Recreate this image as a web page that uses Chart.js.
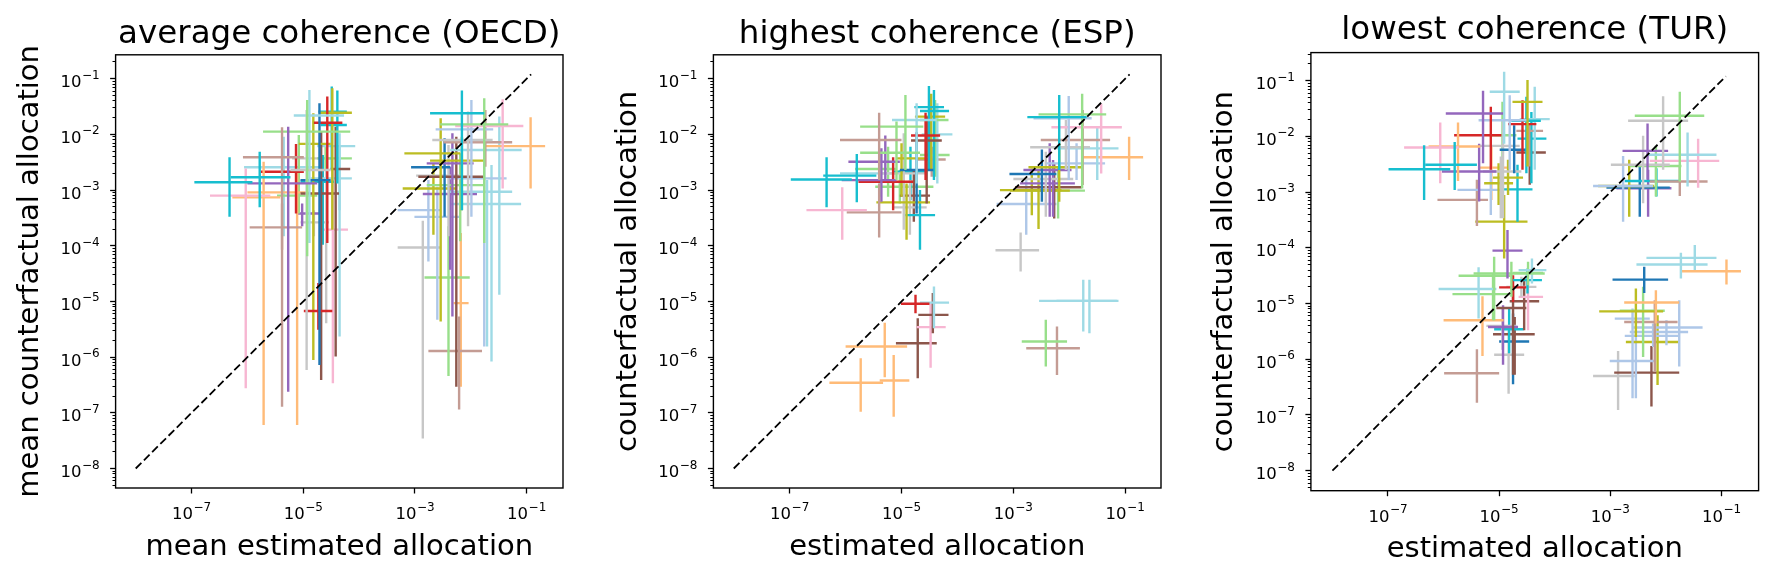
<!DOCTYPE html>
<html>
<head>
<meta charset="utf-8">
<script src="https://cdn.jsdelivr.net/npm/chart.js@4"></script>
<style>
  body { margin: 0; background: #fff; width: 1783px; height: 582px; overflow: hidden; position: relative; }
  canvas { position: absolute; top: 0; }
</style>
</head>
<body>
<canvas id="oecd" width="594" height="582" style="left:0px"></canvas>
<canvas id="esp" width="596" height="582" style="left:594px"></canvas>
<canvas id="tur" width="593" height="582" style="left:1190px"></canvas>
<script>
// tab20 colours
const tab20 = ['#1f77b4', '#aec7e8', '#ff7f0e', '#ffbb78', '#2ca02c', '#98df8a', '#d62728', '#ff9896',
    '#9467bd', '#c5b0d5', '#8c564b', '#c49c94', '#e377c2', '#f7b6d2', '#7f7f7f', '#c7c7c7',
    '#bcbd22', '#dbdb8d', '#17becf', '#9edae5'];

// one row per sector, all in log10 units:
// [estimated, counterfactual, estimated low, estimated high, counterfactual low, counterfactual high, colour]
const oecdBars = [
    [-6.32, -2.86, -6.95, -5.91, -3.48, -2.41, 18],
    [-5.78, -2.77, -6.30, -5.23, -3.31, -2.31, 18],
    [-6.03, -3.10, -6.67, -5.59, -6.56, -2.61, 13],
    [-5.71, -3.13, -6.27, -5.41, -7.22, -2.49, 3],
    [-5.38, -2.41, -6.08, -4.99, -6.89, -1.87, 11],
    [-5.27, -2.88, -6.00, -4.75, -6.62, -1.86, 8],
    [-5.38, -3.67, -5.96, -5.02, -4.07, -3.24, 11],
    [-4.93, -1.95, -5.72, -4.16, -4.19, -1.38, 5],
    [-4.94, -2.64, -5.23, -4.51, -6.23, -1.56, 15],
    [-4.89, -1.66, -5.17, -4.27, -3.95, -1.20, 19],
    [-4.71, -2.82, -5.05, -4.51, -6.14, -1.44, 0],
    [-4.57, -1.79, -4.81, -4.30, -3.95, -1.32, 6],
    [-4.73, -5.17, -4.99, -4.48, -5.51, -4.67, 6],
    [-5.13, -2.67, -5.76, -4.99, -3.42, -2.17, 6],
    [-4.82, -2.17, -5.08, -4.51, -6.05, -1.62, 16],
    [-4.48, -1.61, -4.72, -4.13, -3.71, -1.17, 16],
    [-4.49, -1.59, -4.73, -4.22, -2.64, -1.14, 18],
    [-4.39, -1.83, -4.69, -4.22, -2.88, -1.21, 18],
    [-4.68, -3.06, -5.05, -4.36, -6.41, -1.95, 10],
    [-4.42, -2.62, -4.51, -4.16, -5.99, -1.86, 10],
    [-4.35, -2.21, -4.75, -4.07, -5.63, -1.98, 19],
    [-4.35, -2.79, -4.87, -4.13, -3.36, -2.22, 19],
    [-4.65, -2.85, -5.05, -4.45, -3.98, -2.37, 18],
    [-4.47, -3.71, -4.72, -4.20, -6.47, -2.64, 13],
    [-5.11, -3.04, -6.00, -4.90, -7.22, -2.64, 3],
    [-5.08, -3.10, -5.47, -4.75, -3.42, -2.01, 5],
    [-5.02, -3.42, -5.11, -4.63, -3.65, -3.24, 8],
    [-4.81, -3.58, -5.05, -4.54, -3.83, -3.36, 15],
    [-4.60, -2.43, -4.75, -4.13, -2.64, -2.22, 5],
    [-4.59, -2.43, -5.20, -4.51, -5.39, -2.28, 15],
    [-5.35, -2.59, -6.06, -4.63, -3.83, -2.04, 19],
    [-2.16, -1.62, -2.73, -1.76, -3.36, -1.21, 18],
    [-1.76, -1.82, -2.55, -1.33, -3.95, -1.35, 5],
    [-1.43, -1.85, -2.28, -1.06, -2.97, -1.37, 13],
    [-1.99, -1.91, -2.63, -1.60, -3.48, -1.38, 1],
    [-2.05, -2.10, -2.69, -1.61, -3.65, -1.59, 15],
    [-1.74, -2.14, -2.49, -1.26, -2.58, -1.56, 11],
    [-0.93, -2.21, -1.77, -0.67, -2.97, -1.69, 3],
    [-1.49, -2.28, -2.37, -1.09, -4.88, -1.68, 19],
    [-2.54, -2.34, -3.19, -2.19, -5.36, -1.71, 16],
    [-2.16, -2.47, -2.73, -1.76, -3.36, -2.04, 16],
    [-2.33, -2.52, -2.79, -1.95, -5.27, -1.98, 8],
    [-2.47, -2.59, -3.07, -2.37, -3.48, -2.07, 0],
    [-2.26, -2.76, -2.94, -1.77, -6.53, -2.04, 10],
    [-1.76, -2.79, -2.37, -1.36, -5.81, -2.52, 1],
    [-2.40, -2.74, -2.98, -2.19, -3.83, -2.19, 15],
    [-2.19, -2.91, -2.79, -1.76, -3.92, -2.34, 5],
    [-2.67, -2.97, -3.22, -2.25, -3.80, -2.52, 16],
    [-1.63, -3.03, -2.37, -1.26, -6.08, -2.55, 19],
    [-2.37, -3.07, -2.86, -1.89, -4.43, -2.58, 8],
    [-1.71, -3.25, -2.37, -1.10, -5.81, -2.82, 19],
    [-2.76, -3.36, -3.31, -2.55, -4.28, -2.82, 1],
    [-2.60, -3.48, -3.01, -2.19, -5.33, -2.94, 1],
    [-2.86, -4.03, -3.31, -2.55, -7.46, -3.55, 15],
    [-2.40, -4.57, -2.83, -2.02, -6.34, -3.65, 5],
    [-2.21, -5.89, -2.76, -1.80, -6.94, -5.27, 11],
    [-2.18, -5.03, -2.31, -2.04, -6.53, -3.77, 3]
];

const espBars = [
    [-6.34, -2.81, -6.98, -5.89, -3.31, -2.41, 18],
    [-5.80, -2.74, -6.40, -5.45, -3.22, -2.35, 18],
    [-6.06, -3.36, -6.70, -5.62, -3.89, -2.95, 13],
    [-5.40, -3.40, -5.98, -5.00, -3.85, -2.88, 11],
    [-5.40, -2.10, -6.10, -5.00, -2.82, -1.61, 11],
    [-4.93, -1.86, -5.74, -4.61, -2.64, -1.29, 5],
    [-5.09, -2.33, -5.74, -4.67, -2.82, -1.77, 5],
    [-5.29, -2.49, -5.95, -5.03, -2.82, -2.02, 8],
    [-5.36, -2.82, -6.07, -5.09, -3.21, -2.25, 8],
    [-4.73, -1.74, -5.17, -4.37, -2.88, -1.44, 19],
    [-4.57, -2.02, -4.83, -4.31, -2.82, -1.61, 6],
    [-4.55, -2.11, -4.83, -4.28, -3.24, -1.68, 10],
    [-4.73, -2.64, -5.03, -4.43, -3.42, -1.96, 0],
    [-5.15, -2.85, -5.77, -4.79, -3.36, -2.41, 6],
    [-4.91, -3.22, -5.45, -4.49, -3.89, -2.88, 16],
    [-5.00, -2.43, -5.09, -4.55, -3.12, -2.16, 16],
    [-4.67, -3.45, -4.93, -4.40, -4.07, -3.00, 18],
    [-4.85, -3.31, -5.15, -4.55, -3.80, -2.82, 15],
    [-4.96, -2.70, -5.39, -4.55, -3.71, -1.98, 15],
    [-4.51, -1.51, -4.77, -4.24, -2.64, -1.13, 18],
    [-4.42, -1.58, -4.67, -4.15, -2.82, -1.20, 18],
    [-4.47, -1.68, -4.76, -4.22, -2.64, -1.27, 16],
    [-4.40, -1.74, -4.67, -4.16, -2.76, -1.38, 5],
    [-4.36, -2.00, -4.64, -4.09, -2.88, -1.44, 19],
    [-4.40, -2.37, -4.67, -4.14, -2.70, -2.04, 5],
    [-4.46, -2.45, -4.73, -4.21, -2.76, -2.22, 11],
    [-4.78, -3.10, -5.03, -4.49, -3.57, -2.64, 10],
    [-4.84, -2.67, -5.15, -4.58, -3.18, -2.22, 18],
    [-5.03, -2.94, -5.47, -4.43, -3.24, -2.64, 5],
    [-5.39, -2.70, -6.10, -5.09, -3.12, -2.28, 19],
    [-5.24, -2.62, -5.83, -5.09, -3.12, -2.22, 5],
    [-4.75, -5.04, -5.01, -4.50, -5.21, -4.88, 6],
    [-4.42, -5.02, -4.67, -4.15, -5.48, -4.73, 19],
    [-4.44, -5.24, -4.70, -4.16, -5.57, -4.85, 10],
    [-4.48, -5.46, -4.73, -4.21, -6.19, -5.03, 13],
    [-4.71, -5.75, -5.10, -4.37, -6.38, -5.30, 10],
    [-5.30, -5.81, -6.00, -4.90, -6.36, -5.38, 3],
    [-5.73, -6.46, -6.29, -5.33, -6.98, -6.02, 3],
    [-5.14, -6.42, -5.39, -4.86, -7.07, -5.96, 3],
    [-2.18, -1.69, -2.75, -1.69, -2.64, -1.29, 18],
    [-1.77, -1.64, -2.55, -1.34, -2.97, -1.27, 5],
    [-2.01, -1.71, -2.64, -1.60, -2.82, -1.31, 1],
    [-1.43, -1.87, -2.32, -1.06, -2.70, -1.45, 13],
    [-1.76, -2.10, -2.51, -1.27, -2.91, -1.56, 11],
    [-2.06, -2.23, -2.70, -1.63, -2.64, -1.74, 15],
    [-1.50, -2.25, -2.23, -1.12, -2.82, -1.87, 19],
    [-0.93, -2.41, -1.75, -0.68, -2.82, -2.04, 3],
    [-1.87, -2.52, -2.41, -1.36, -2.82, -2.16, 1],
    [-2.18, -2.59, -2.73, -1.76, -3.21, -2.16, 16],
    [-2.49, -2.71, -3.07, -2.23, -3.21, -2.27, 0],
    [-2.35, -2.64, -2.82, -1.96, -3.48, -2.16, 8],
    [-2.42, -2.80, -3.00, -1.93, -3.48, -2.31, 15],
    [-2.29, -2.88, -2.88, -1.90, -3.48, -2.46, 8],
    [-2.27, -2.95, -2.97, -1.78, -3.51, -2.52, 10],
    [-2.67, -3.00, -3.24, -2.14, -3.45, -2.61, 16],
    [-2.55, -3.01, -3.06, -1.99, -3.70, -2.64, 16],
    [-2.20, -3.01, -2.76, -1.72, -3.51, -2.58, 5],
    [-2.77, -3.25, -3.30, -2.23, -3.80, -2.82, 1],
    [-2.87, -4.08, -3.32, -2.54, -4.46, -3.76, 15],
    [-1.75, -4.99, -2.54, -1.12, -5.54, -4.61, 19],
    [-1.64, -4.99, -2.23, -1.15, -5.57, -4.61, 19],
    [-2.42, -5.72, -2.85, -2.04, -6.17, -5.33, 5],
    [-2.22, -5.84, -2.77, -1.81, -6.32, -5.45, 11]
];

const turBars = [
    [-6.35, -2.59, -6.99, -5.88, -3.14, -2.16, 18],
    [-5.80, -2.51, -6.33, -5.40, -2.96, -2.10, 18],
    [-6.06, -2.20, -6.71, -5.73, -2.84, -1.75, 13],
    [-5.74, -2.18, -6.27, -5.34, -2.80, -1.75, 3],
    [-5.29, -1.59, -5.96, -4.93, -2.48, -1.18, 8],
    [-5.15, -1.98, -5.81, -4.96, -2.60, -1.47, 6],
    [-5.36, -2.63, -6.03, -5.05, -3.17, -2.13, 8],
    [-4.81, -1.71, -5.37, -4.51, -2.60, -1.26, 1],
    [-4.91, -1.20, -5.17, -4.63, -2.13, -0.84, 19],
    [-4.49, -1.38, -4.76, -4.22, -2.54, -0.99, 16],
    [-4.58, -1.78, -4.84, -4.33, -2.60, -1.35, 6],
    [-4.51, -1.72, -4.78, -4.25, -2.66, -1.29, 18],
    [-4.36, -1.69, -4.63, -4.09, -2.60, -1.11, 19],
    [-4.46, -1.90, -4.69, -4.21, -2.54, -1.77, 11],
    [-4.42, -2.04, -4.67, -4.15, -2.84, -1.56, 18],
    [-4.45, -2.29, -4.69, -4.16, -2.87, -1.89, 10],
    [-4.73, -2.24, -4.99, -4.45, -2.66, -1.80, 0],
    [-4.93, -2.17, -5.34, -4.63, -3.47, -1.71, 15],
    [-4.97, -2.63, -5.29, -4.60, -3.47, -2.36, 15],
    [-4.94, -1.98, -5.17, -4.69, -2.60, -1.38, 5],
    [-4.84, -2.74, -5.11, -4.57, -3.05, -2.42, 16],
    [-5.01, -2.84, -5.27, -4.75, -3.23, -2.48, 16],
    [-4.67, -2.95, -4.93, -4.40, -3.53, -2.51, 18],
    [-5.15, -2.96, -5.75, -4.93, -3.41, -2.54, 1],
    [-5.40, -3.14, -6.11, -5.20, -3.61, -2.78, 11],
    [-4.91, -3.53, -5.43, -4.49, -4.19, -3.05, 16],
    [-4.85, -4.05, -5.12, -4.58, -4.55, -3.68, 8],
    [-5.14, -2.56, -5.37, -4.86, -3.14, -2.18, 3],
    [-5.09, -4.50, -5.73, -4.80, -5.30, -4.16, 5],
    [-4.78, -4.46, -5.46, -4.18, -4.88, -4.25, 5],
    [-5.37, -4.74, -6.09, -5.05, -5.27, -4.35, 19],
    [-5.11, -4.83, -5.84, -4.80, -5.30, -4.46, 5],
    [-5.30, -5.30, -6.00, -4.92, -5.94, -4.87, 3],
    [-5.40, -6.25, -5.99, -5.00, -6.78, -5.82, 11],
    [-4.41, -4.40, -4.65, -4.15, -4.64, -4.19, 19],
    [-4.48, -4.45, -4.75, -4.21, -4.67, -4.25, 5],
    [-4.49, -4.58, -4.75, -4.23, -4.82, -4.37, 18],
    [-4.75, -4.71, -5.00, -4.51, -4.97, -4.49, 6],
    [-4.60, -4.70, -4.87, -4.33, -4.88, -4.52, 15],
    [-4.48, -4.88, -4.65, -4.21, -5.48, -4.58, 13],
    [-4.55, -4.96, -4.81, -4.28, -5.48, -4.55, 10],
    [-4.75, -5.08, -5.05, -4.51, -6.28, -4.76, 10],
    [-4.93, -5.42, -5.20, -4.66, -6.10, -5.03, 8],
    [-4.94, -5.40, -5.23, -4.69, -5.83, -5.06, 15],
    [-4.82, -5.46, -5.09, -4.56, -5.89, -5.09, 18],
    [-4.72, -5.55, -5.11, -4.36, -6.28, -5.24, 10],
    [-4.75, -5.68, -5.00, -4.46, -6.45, -5.18, 0],
    [-4.83, -5.92, -5.09, -4.55, -6.62, -5.48, 15],
    [-1.75, -1.63, -2.56, -1.31, -2.81, -1.20, 5],
    [-2.05, -1.72, -2.68, -1.60, -2.60, -1.28, 15],
    [-2.33, -2.26, -2.78, -1.96, -2.78, -1.77, 8],
    [-2.41, -2.51, -2.99, -1.93, -3.20, -1.99, 15],
    [-1.61, -2.33, -2.32, -1.09, -2.90, -1.93, 19],
    [-1.42, -2.44, -2.29, -1.04, -2.92, -2.04, 13],
    [-2.18, -2.53, -2.65, -1.72, -3.08, -2.17, 5],
    [-1.75, -2.81, -2.29, -1.25, -3.07, -2.54, 11],
    [-2.17, -2.80, -2.74, -1.75, -3.08, -2.57, 18],
    [-2.77, -2.89, -3.31, -2.23, -3.53, -2.35, 1],
    [-2.66, -2.89, -3.22, -2.21, -3.44, -2.42, 16],
    [-2.47, -2.92, -3.07, -1.93, -3.44, -2.54, 0],
    [-2.32, -2.93, -2.89, -1.90, -3.44, -2.60, 8],
    [-1.48, -4.18, -2.35, -1.09, -4.40, -3.95, 19],
    [-1.73, -4.30, -2.53, -1.25, -4.55, -4.09, 19],
    [-0.91, -4.42, -1.72, -0.65, -4.66, -4.21, 3],
    [-2.39, -4.57, -2.96, -1.96, -4.81, -4.34, 0],
    [-2.18, -4.98, -2.75, -1.76, -5.36, -4.76, 3],
    [-2.54, -5.14, -3.20, -2.05, -5.60, -4.73, 16],
    [-2.41, -5.13, -2.83, -2.02, -5.96, -4.70, 5],
    [-2.60, -5.27, -2.92, -2.29, -6.70, -5.09, 1],
    [-2.20, -5.33, -2.75, -1.79, -6.22, -4.94, 11],
    [-1.99, -5.43, -2.59, -1.34, -5.75, -5.30, 1],
    [-1.76, -5.51, -2.65, -1.60, -6.13, -4.94, 1],
    [-2.23, -5.58, -2.74, -1.75, -5.78, -5.36, 1],
    [-2.15, -5.69, -2.72, -1.75, -6.46, -5.21, 16],
    [-2.54, -6.03, -3.01, -2.20, -6.70, -5.60, 1],
    [-2.26, -6.24, -2.93, -1.76, -6.85, -5.76, 10],
    [-2.86, -6.30, -3.31, -2.56, -6.91, -5.85, 15]
];

// y = x reference line
const diagonal = [1e-8, 0.12];
const xTickValues = [1e-7, 1e-5, 1e-3, 1e-1];
const yTickValues = [1e-8, 1e-7, 1e-6, 1e-5, 1e-4, 1e-3, 1e-2, 1e-1];

const FONT = 'DejaVu Sans';
const BASE_SIZE = 16.5;
const EXP_SIZE = 12;
Chart.defaults.font.family = FONT;
Chart.defaults.color = '#000';

function minorTicks(min, max) {
    const out = [];
    for (let k = -10; k <= 0; k++) {
        for (let m = 2; m <= 9; m++) {
            const v = m * Math.pow(10, k);
            if (v >= min && v <= max) out.push({ value: v });
        }
    }
    return out;
}

// "10" with a raised exponent, like the reference's math text tick labels
function drawPower(ctx, value, x, baseline, align) {
    const exp = String(Math.round(Math.log10(value))).replace('-', '\u2212');
    ctx.font = BASE_SIZE + 'px "' + FONT + '"';
    const w1 = ctx.measureText('10').width;
    ctx.font = EXP_SIZE + 'px "' + FONT + '"';
    const w2 = ctx.measureText(exp).width;
    const total = w1 + 0.5 + w2;
    const left = align === 'center' ? x - total / 2 : x - total;
    ctx.textAlign = 'left';
    ctx.textBaseline = 'alphabetic';
    ctx.font = BASE_SIZE + 'px "' + FONT + '"';
    ctx.fillText('10', left, baseline);
    ctx.font = EXP_SIZE + 'px "' + FONT + '"';
    ctx.fillText(exp, left + w1 + 0.5, baseline - 8.5);
}

const framePlugin = {
    id: 'frame',
    afterDatasetsDraw(chart) {
        const { ctx, chartArea: a } = chart;
        ctx.save();
        ctx.strokeStyle = '#000';
        ctx.lineWidth = 1.4;
        ctx.strokeRect(a.left, a.top, a.right - a.left, a.bottom - a.top);
        ctx.restore();
    },
    afterDraw(chart) {
        const { ctx, chartArea: a } = chart;
        ctx.save();
        ctx.fillStyle = '#000';
        xTickValues.forEach(v => drawPower(ctx, v, chart.scales.x.getPixelForValue(v), a.bottom + 31, 'center'));
        yTickValues.forEach(v => drawPower(ctx, v, a.left - 16, chart.scales.y.getPixelForValue(v) + 8.5, 'right'));
        ctx.restore();
    }
};

function segment(points, color) {
    return {
        type: 'line',
        data: points,
        borderColor: color,
        borderWidth: 2.4,
        pointRadius: 0,
        fill: false,
        tension: 0,
        borderCapStyle: 'butt',
        yAxisID: 'y',
        order: 1
    };
}

function buildChart(id, title, xLabel, yLabel, bars, p) {
    const datasets = [];
    bars.forEach(row => {
        const [cx, cy, xl, xh, yl, yh] = row.slice(0, 6).map(v => Math.pow(10, v));
        const color = tab20[row[6]];
        datasets.push(segment([{ x: xl, y: cy }, { x: xh, y: cy }], color));
        datasets.push(segment([{ x: cx, y: yl }, { x: cx, y: yh }], color));
    });
    datasets.push({
        type: 'line',
        data: diagonal.map(v => ({ x: v, y: v })),
        borderColor: '#000',
        borderWidth: 1.8,
        borderDash: [8, 3.6],
        pointRadius: 0,
        fill: false,
        yAxisID: 'y',
        order: 0
    });

    const yMin = Math.pow(10, p.y[0]);
    const yMax = Math.pow(10, p.y[1]);

    new Chart(document.getElementById(id), {
        type: 'scatter',
        data: { datasets },
        options: {
            responsive: false,
            animation: false,
            devicePixelRatio: 1,
            layout: { padding: { left: 0, right: p.padR, top: p.padT, bottom: 0 } },
            plugins: {
                legend: { display: false },
                tooltip: { enabled: false },
                title: {
                    display: true,
                    text: title,
                    fullSize: false,
                    color: '#000',
                    font: { family: FONT, size: 32.5, weight: 'normal', lineHeight: 1.2 },
                    padding: { top: 0, bottom: p.titleGap }
                }
            },
            scales: {
                x: {
                    type: 'logarithmic',
                    position: 'bottom',
                    bounds: 'data',
                    min: Math.pow(10, p.x[0]),
                    max: Math.pow(10, p.x[1]),
                    afterBuildTicks: s => { s.ticks = xTickValues.map(v => ({ value: v })); },
                    afterFit: s => { s.height = p.xAxisH; },
                    ticks: { display: false },
                    grid: { drawOnChartArea: false, drawTicks: true, tickLength: 5.5, tickWidth: 1.3, tickColor: '#000' },
                    border: { display: false },
                    title: { display: true, text: xLabel, color: '#000',
                        font: { family: FONT, size: 29, lineHeight: 1.2 }, padding: { top: 0, bottom: p.xTitleGap } }
                },
                y: {
                    type: 'logarithmic',
                    position: 'left',
                    weight: 1,
                    bounds: 'data',
                    min: yMin,
                    max: yMax,
                    afterBuildTicks: s => { s.ticks = yTickValues.map(v => ({ value: v })); },
                    afterFit: s => { s.width = p.left; },
                    ticks: { display: false },
                    grid: { drawOnChartArea: false, drawTicks: true, tickLength: 5.5, tickWidth: 1.3, tickColor: '#000' },
                    border: { display: false },
                    title: { display: true, text: yLabel, color: '#000',
                        font: { family: FONT, size: 29, lineHeight: 1.2 }, padding: { top: p.yTitleGap, bottom: 0 } }
                },
                yMinor: {
                    type: 'logarithmic',
                    position: 'left',
                    weight: 0,
                    bounds: 'data',
                    min: yMin,
                    max: yMax,
                    afterBuildTicks: s => { s.ticks = minorTicks(yMin, yMax); },
                    afterFit: s => { s.width = 0; },
                    ticks: { display: false },
                    grid: { drawOnChartArea: false, drawTicks: true, tickLength: 3.1, tickWidth: 1, tickColor: '#000' },
                    border: { display: false }
                }
            }
        },
        plugins: [framePlugin]
    });
}

buildChart('oecd', 'average coherence (OECD)', 'mean estimated allocation', 'mean counterfactual allocation', oecdBars,
    { x: [-8.36, -0.35], y: [-8.35, -0.57], left: 115.6, padR: 31, padT: 14.8, titleGap: 1.0, xAxisH: 94, xTitleGap: 17.6, yTitleGap: 12.6 });
buildChart('esp', 'highest coherence (ESP)', 'estimated allocation', 'counterfactual allocation', espBars,
    { x: [-8.364, -0.36], y: [-8.35, -0.57], left: 119.4, padR: 29, padT: 14.8, titleGap: 1.0, xAxisH: 94, xTitleGap: 17.6, yTitleGap: 16.6 });
buildChart('tur', 'lowest coherence (TUR)', 'estimated allocation', 'counterfactual allocation', turBars,
    { x: [-8.387, -0.332], y: [-8.359, -0.496], left: 120.9, padR: 24.4, padT: 10.7, titleGap: 2.9, xAxisH: 91.3, xTitleGap: 15.6, yTitleGap: 16.6 });
</script>
</body>
</html>
